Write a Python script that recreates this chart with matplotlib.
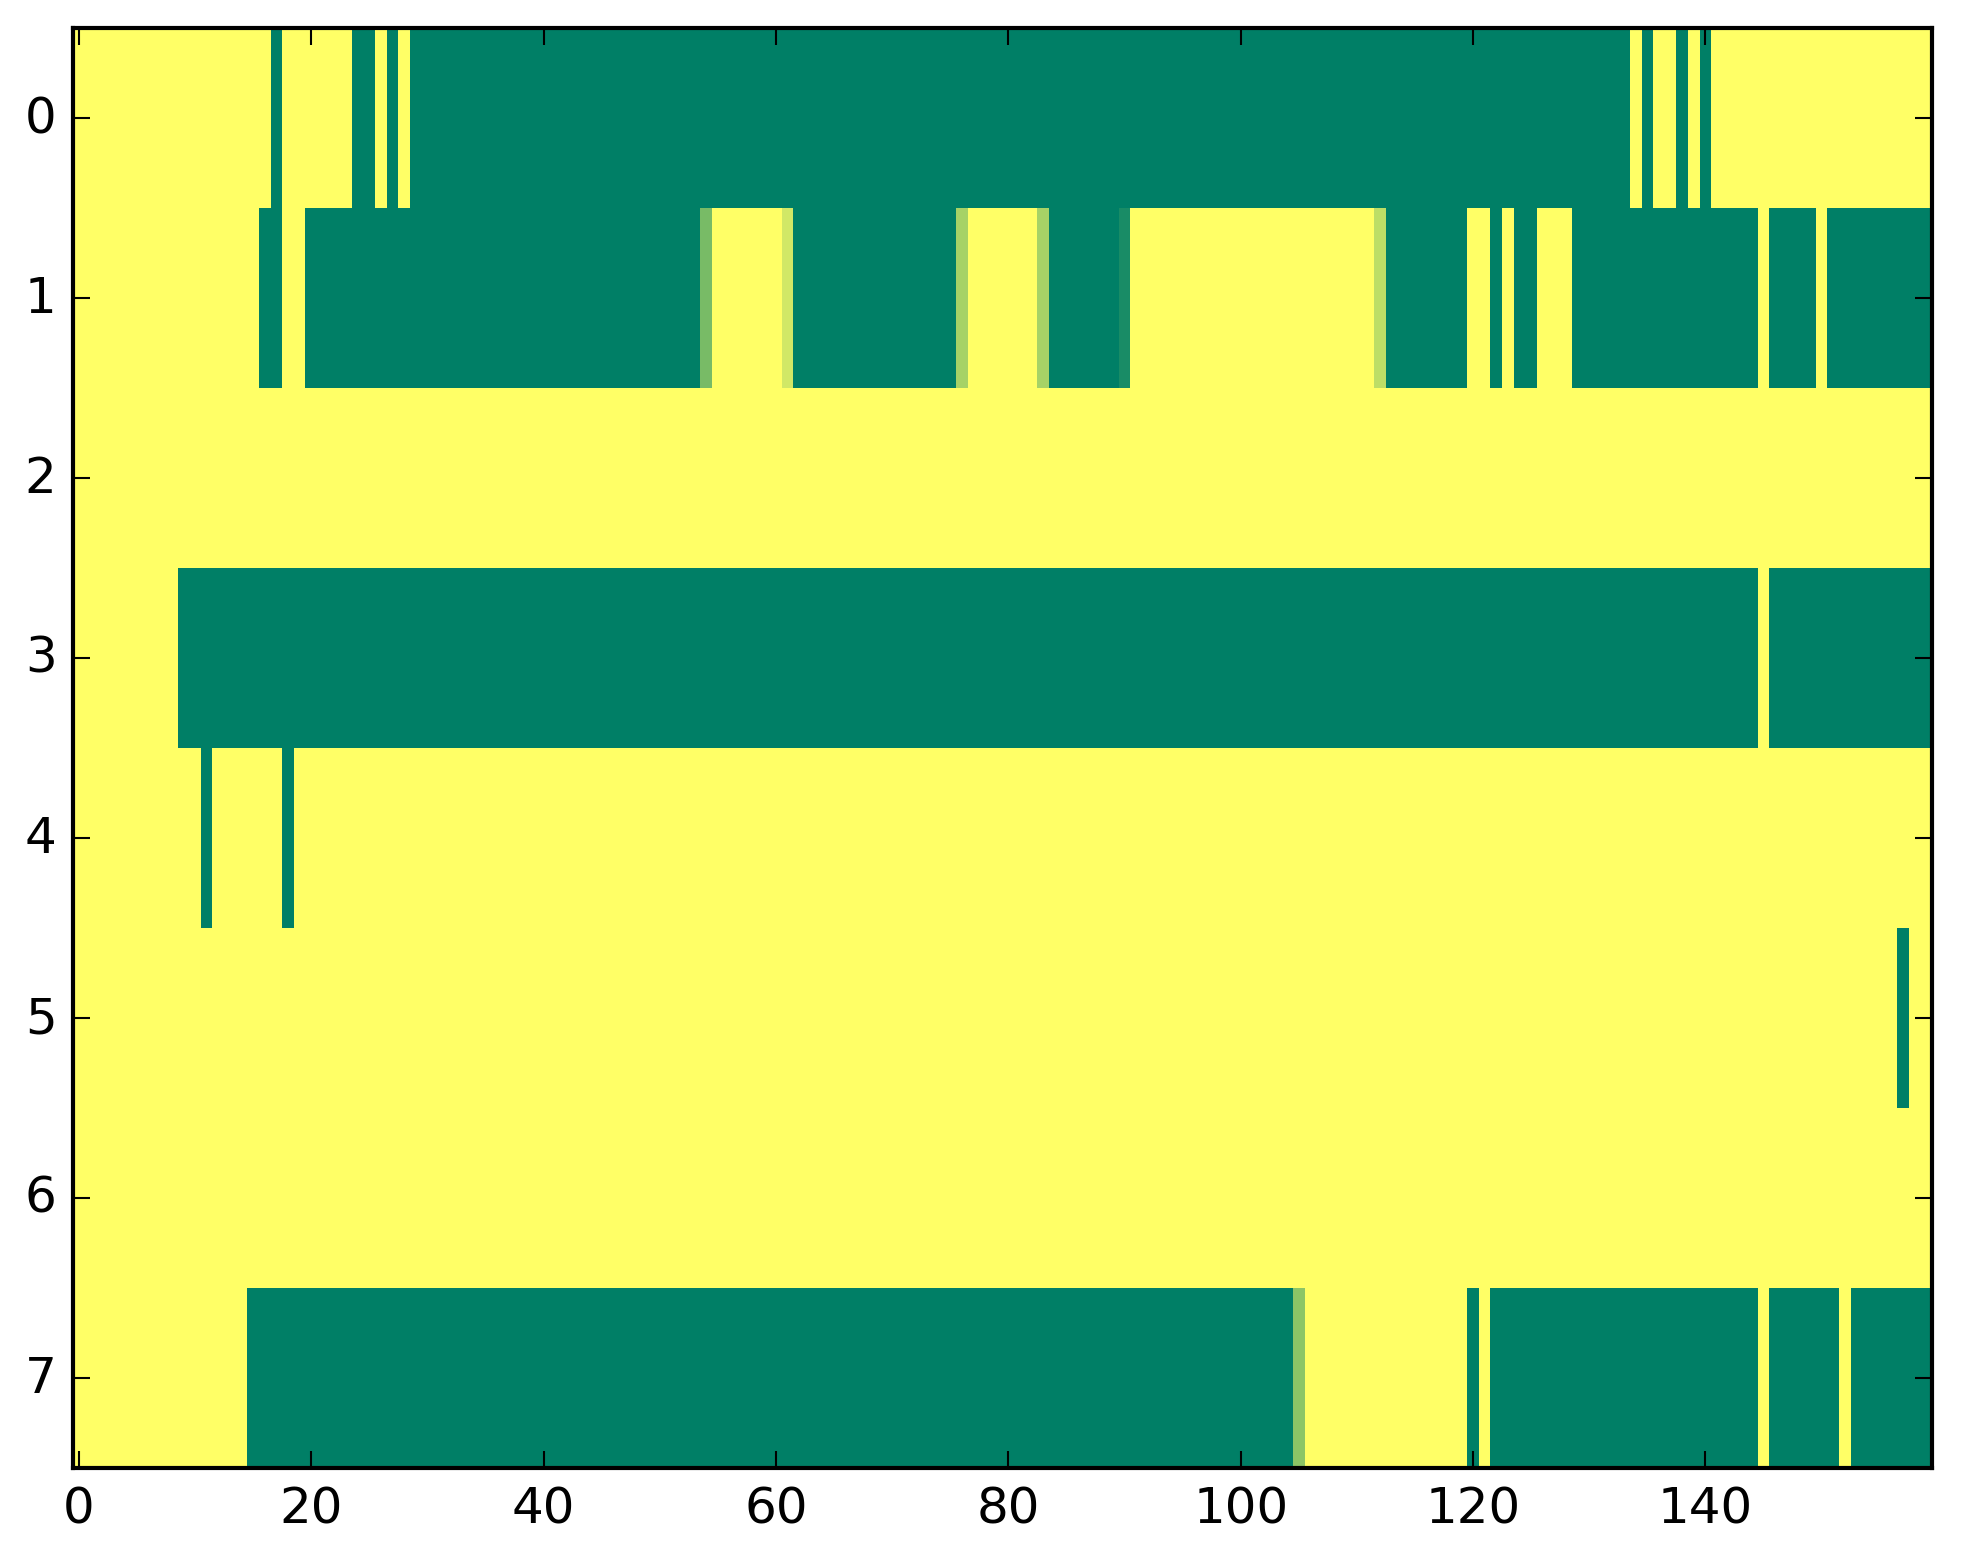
import numpy as np
import matplotlib
matplotlib.use("Agg")
import matplotlib.pyplot as plt

plt.style.use("classic")

# Each row: 160 cells, written in groups of 10.
# '1' = yellow (1.0), '0' = green (0.0), letters = intermediate values.
levels = {"0": 0.0, "1": 1.0, "a": 0.10, "b": 0.47, "c": 0.55,
          "d": 0.65, "e": 0.74, "f": 0.82}

row0 = ("1111111111 1111111011 1111001010 0000000000 0000000000 0000000000 "
        "0000000000 0000000000 0000000000 0000000000 0000000000 0000000000 "
        "0000000000 0000101101 0111111111 1111111111")
row1 = ("1111111111 1111110011 0000000000 0000000000 0000000000 0000b11111 "
        "1f00000000 000000d111 111d000000 a111111111 1111111111 11e0000000 "
        "1101001110 0000000000 0000010000 1000000000")
row2 = ("1111111111 1111111111 1111111111 1111111111 1111111111 1111111111 "
        "1111111111 1111111111 1111111111 1111111111 1111111111 1111111111 "
        "1111111111 1111111111 1111111111 1111111111")
row3 = ("1111111110 0000000000 0000000000 0000000000 0000000000 0000000000 "
        "0000000000 0000000000 0000000000 0000000000 0000000000 0000000000 "
        "0000000000 0000000000 0000010000 0000000000")
row4 = ("1111111111 1011111101 1111111111 1111111111 1111111111 1111111111 "
        "1111111111 1111111111 1111111111 1111111111 1111111111 1111111111 "
        "1111111111 1111111111 1111111111 1111111111")
row5 = ("1111111111 1111111111 1111111111 1111111111 1111111111 1111111111 "
        "1111111111 1111111111 1111111111 1111111111 1111111111 1111111111 "
        "1111111111 1111111111 1111111111 1111111011")
row6 = ("1111111111 1111111111 1111111111 1111111111 1111111111 1111111111 "
        "1111111111 1111111111 1111111111 1111111111 1111111111 1111111111 "
        "1111111111 1111111111 1111111111 1111111111")
row7 = ("1111111111 1111100000 0000000000 0000000000 0000000000 0000000000 "
        "0000000000 0000000000 0000000000 0000000000 00000c1111 1111111111 "
        "0100000000 0000000000 0000010000 0010000000")

rows = [row0, row1, row2, row3, row4, row5, row6, row7]
x_ticks = [0, 20, 40, 60, 80, 100, 120, 140]
y_ticks = [0, 1, 2, 3, 4, 5, 6, 7]


def decode(s):
    return [levels[ch] for ch in s.replace(" ", "")]


data = np.array([decode(r) for r in rows])

W, H = 1963, 1564
dpi = 300
fig = plt.figure(figsize=(W / dpi, H / dpi), dpi=dpi, facecolor="white")
ax = fig.add_axes([73.2 / W, (H - 1469) / H, (1932 - 73.2) / W, 1440 / H])
ax.imshow(data, cmap="summer", vmin=0, vmax=1, aspect="auto",
          interpolation="nearest")
ax.set_xticks(x_ticks)
ax.set_yticks(y_ticks)
ax.set_xlim(-0.5, data.shape[1] - 0.5)
ax.set_ylim(data.shape[0] - 0.5, -0.5)
ax.tick_params(labelsize=12)

fig.savefig("out.png", dpi=dpi, facecolor="white")
